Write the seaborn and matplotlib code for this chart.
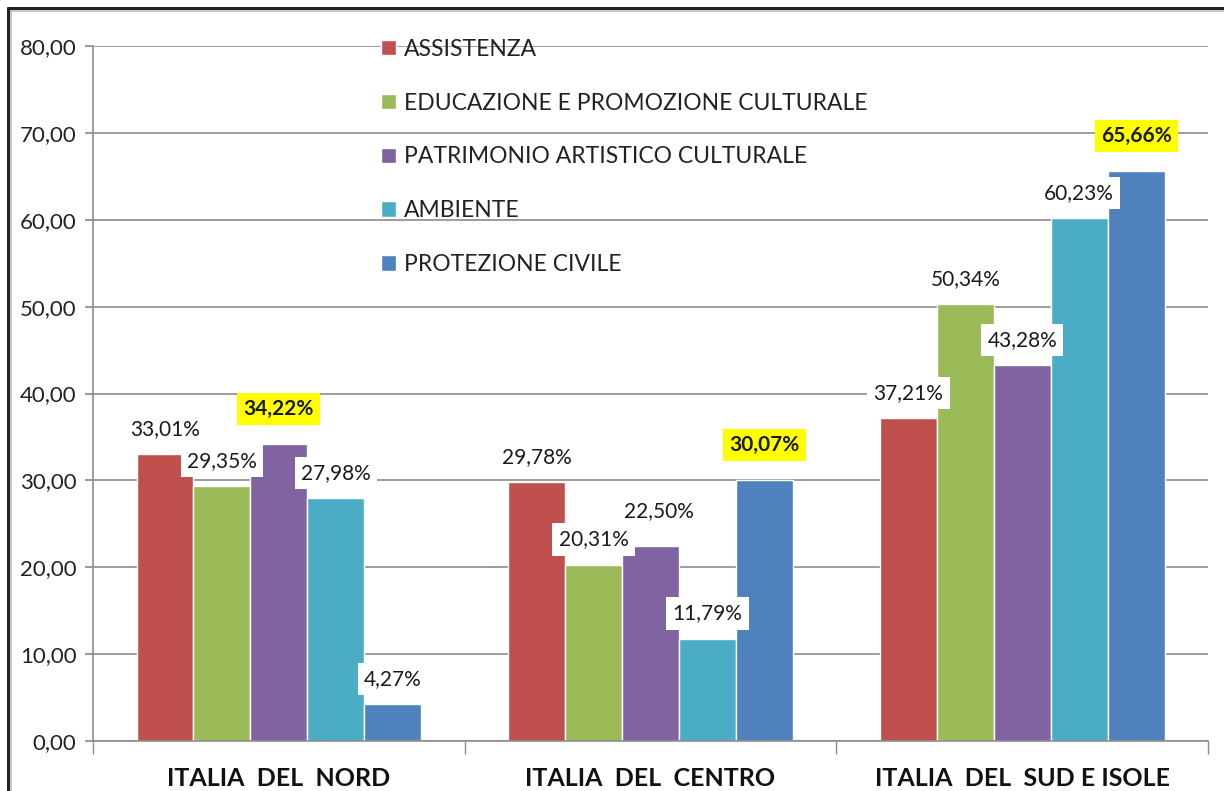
import numpy as np
import pandas as pd
import matplotlib
matplotlib.use('Agg')
import matplotlib.pyplot as plt
from matplotlib.lines import Line2D
from matplotlib.ticker import FuncFormatter, FixedLocator
import seaborn as sns

sns.set_theme(style='white')
plt.rcParams['font.family'] = ['Lato', 'DejaVu Sans']

# dati
aree = ['ITALIA  DEL  NORD', 'ITALIA  DEL  CENTRO', 'ITALIA  DEL  SUD E ISOLE']
settori = ['ASSISTENZA', 'EDUCAZIONE E PROMOZIONE CULTURALE',
           'PATRIMONIO ARTISTICO CULTURALE', 'AMBIENTE', 'PROTEZIONE CIVILE']
assistenza = [33.01, 29.78, 37.21]
educazione = [29.35, 20.31, 50.34]
patrimonio = [34.22, 22.50, 43.28]
ambiente = [27.98, 11.79, 60.23]
protezione = [4.27, 30.07, 65.66]
colori = ['#C0504D', '#9BBB59', '#8064A2', '#4BACC6', '#4F81BD']
y_ticks = [0, 10, 20, 30, 40, 50, 60, 70, 80]


def build_df():
    serie = [assistenza, educazione, patrimonio, ambiente, protezione]
    rows = []
    for s, vals in zip(settori, serie):
        for a, v in zip(aree, vals):
            rows.append({'area': a, 'settore': s, 'valore': v})
    return pd.DataFrame(rows)


def fmt(v):
    return f'{v:.2f}'.replace('.', ',')


def main():
    df = build_df()
    fig = plt.figure(figsize=(12.24, 7.91), dpi=100)
    ax = fig.add_axes([0.076, 0.0632, 0.911, 0.8786])

    sns.barplot(data=df, x='area', y='valore', hue='settore', order=aree,
                hue_order=settori, palette=colori, saturation=1,
                width=0.766, gap=0, ax=ax)

    ax.set_ylim(0, 80)
    ax.set_xlim(-0.5, 2.5)
    ax.yaxis.set_major_locator(FixedLocator(y_ticks))
    ax.yaxis.set_major_formatter(FuncFormatter(lambda v, p: fmt(v)))
    ax.yaxis.grid(True, color='#8c8c8c', linewidth=1.2)
    ax.set_axisbelow(True)
    ax.tick_params(axis='y', which='major', left=True, length=6,
                   color='#8c8c8c', labelsize=16, pad=6, labelcolor='#222222')
    ax.tick_params(axis='x', which='major', length=0, labelsize=18, pad=19,
                   labelcolor='#111111')
    ax.set_xticks([-0.5, 0.5, 1.5, 2.5], minor=True)
    ax.tick_params(axis='x', which='minor', bottom=True, length=9,
                   color='#8c8c8c')
    for lab in ax.get_xticklabels():
        lab.set_fontweight('bold')
    for side in ['top', 'right']:
        ax.spines[side].set_visible(False)
    for side in ['left', 'bottom']:
        ax.spines[side].set_color('#8c8c8c')
        ax.spines[side].set_linewidth(1.2)
    ax.set_xlabel('')
    ax.set_ylabel('')

    # etichette dei valori
    maxima = df.groupby('area')['valore'].max()
    labels = {a: [] for a in aree}
    for cont in ax.containers:
        for bar in cont:
            v = bar.get_height()
            xc = bar.get_x() + bar.get_width() / 2
            area = aree[int(round(xc))]
            top = np.isclose(v, maxima[area])
            t = ax.annotate(fmt(v) + '%', (xc, v),
                            xytext=(0, 25 if top else 18),
                            textcoords='offset points', ha='center',
                            va='center', fontsize=15, color='#1a1a1a',
                            fontweight='bold' if top else 'normal',
                            bbox=dict(boxstyle='square,pad=0.3',
                                      fc='#FFFF00' if top else 'white',
                                      ec='none'))
            labels[area].append(t)

    # sposta in alto le etichette che si sovrappongono
    fig.canvas.draw()
    r = fig.canvas.get_renderer()
    for area in aree:
        for prev, t in zip(labels[area][:-1], labels[area][1:]):
            b0 = prev.get_window_extent(r)
            b1 = t.get_window_extent(r)
            h_over = min(b0.x1, b1.x1) - max(b0.x0, b1.x0)
            v_over = min(b0.y1, b1.y1) - max(b0.y0, b1.y0) + 8
            if h_over > -8 and v_over > 0 and b1.y0 >= b0.y0:
                dx, dy = t.xyann
                t.xyann = (dx + 6, dy + v_over * 72 / 100)

    leg = ax.legend(loc='upper left', bbox_to_anchor=(0.24, 1.04),
                    frameon=False, fontsize=16.5, labelspacing=1.43,
                    handlelength=0.65, handleheight=0.65, handletextpad=0.35)
    for t in leg.get_texts():
        t.set_color('#222222')

    # bordo del grafico
    fig.add_artist(Line2D([8 / 1224, 8 / 1224], [0, 1 - 8 / 791],
                          color='#222222', linewidth=2.2))
    fig.add_artist(Line2D([8 / 1224, 1], [1 - 8 / 791, 1 - 8 / 791],
                          color='#222222', linewidth=2.2))
    fig.add_artist(Line2D([11 / 1224, 11 / 1224], [0, 1 - 11 / 791],
                          color='#bbbbbb', linewidth=1.2))
    fig.add_artist(Line2D([11 / 1224, 1], [1 - 11 / 791, 1 - 11 / 791],
                          color='#bbbbbb', linewidth=1.2))

    fig.savefig('out.png', dpi=100)


if __name__ == '__main__':
    main()
